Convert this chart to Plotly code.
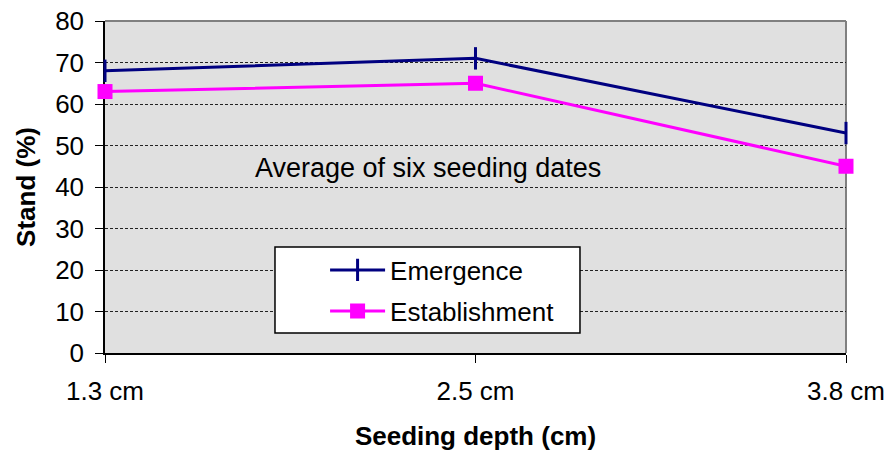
import plotly.graph_objects as go

categories = ["1.3 cm", "2.5 cm", "3.8 cm"]
emergence = [68, 71, 53]
establishment = [63, 65, 45]
y_ticks = [0, 10, 20, 30, 40, 50, 60, 70, 80]

xpos = list(range(len(categories)))
font = "Liberation Sans, Arial, sans-serif"
FS = 26

fig = go.Figure()
fig.add_trace(go.Scatter(
    x=xpos, y=emergence, name="Emergence", mode="lines+markers",
    line=dict(color="#000080", width=3),
    marker=dict(symbol="line-ns", size=16, line=dict(color="#000080", width=3)),
    cliponaxis=False, legend="legend",
))
fig.add_trace(go.Scatter(
    x=xpos, y=establishment, name="Establishment", mode="lines+markers",
    line=dict(color="#FF00FF", width=3),
    marker=dict(symbol="square", size=15, color="#FF00FF"),
    cliponaxis=False, legend="legend2",
))

leg_common = dict(
    xanchor="left", yanchor="middle",
    bgcolor="rgba(0,0,0,0)", borderwidth=0,
    font=dict(size=FS), itemwidth=55,
)

fig.update_layout(
    width=890, height=452,
    margin=dict(l=105, r=44, t=21, b=99),
    paper_bgcolor="white", plot_bgcolor="#E0E0E0",
    font=dict(family=font, size=FS, color="black"),
    showlegend=True,
    legend=dict(x=0.297, y=0.25, **leg_common),
    legend2=dict(x=0.297, y=0.1265, **leg_common),
    xaxis=dict(
        range=[0, 2], tickvals=xpos, ticktext=categories,
        showgrid=False, zeroline=False, automargin=False,
        showline=True, linecolor="black", linewidth=1.5,
        ticks="outside", ticklen=8, tickcolor="black",
        tickfont=dict(size=FS), ticklabelstandoff=6,
        ticklabeloverflow="allow", layer="below traces",
        title=dict(text="<b>Seeding depth (cm)</b>", font=dict(size=FS), standoff=22),
    ),
    yaxis=dict(
        range=[0, 80], tickvals=y_ticks, automargin=False,
        showgrid=True, gridcolor="#222222", griddash="3px,2px", gridwidth=1,
        zeroline=False,
        showline=True, linecolor="black", linewidth=1.5,
        ticks="outside", ticklen=8, tickcolor="black",
        tickfont=dict(size=FS), ticklabelstandoff=6,
        ticklabeloverflow="allow", layer="below traces",
        title=dict(text="<b>Stand (%)</b>", font=dict(size=FS), standoff=12),
    ),
    annotations=[dict(
        x=0.872, y=44.6, xref="x", yref="y",
        text="Average of six seeding dates", showarrow=False,
        font=dict(size=27), xanchor="center", yanchor="middle",
    )],
    shapes=[
        dict(type="line", xref="paper", yref="paper", x0=0, x1=1, y0=1, y1=1,
             layer="below", line=dict(color="#808080", width=2)),
        dict(type="line", xref="paper", yref="paper", x0=1, x1=1, y0=0, y1=1,
             layer="below", line=dict(color="#808080", width=2)),
        dict(type="rect", xref="paper", yref="paper", layer="above",
             x0=0.2294, x1=0.641, y0=0.0602, y1=0.319,
             fillcolor="white", line=dict(color="black", width=1.5)),
    ],
)

fig.write_html(
    "out.html",
    config={"displayModeBar": False},
    post_script="document.body.style.margin='0';document.body.style.overflow='hidden';",
)
